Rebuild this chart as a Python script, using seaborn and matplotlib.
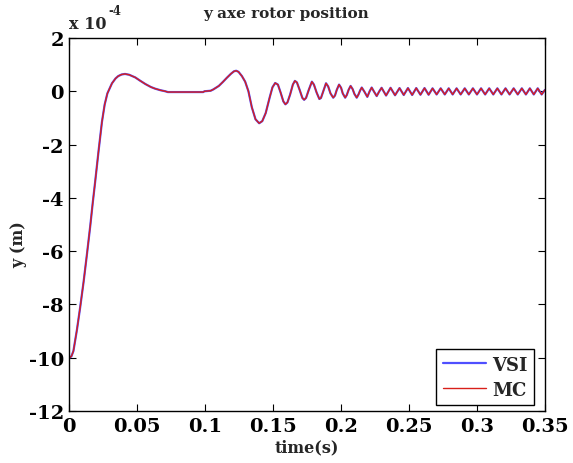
import matplotlib
matplotlib.use("Agg")
import matplotlib.pyplot as plt
import pandas as pd
import seaborn as sns

# Rotor y-position (units of 1e-4 m) against time (s)
time_s = [
    0.0000, 0.0015, 0.0030, 0.0056, 0.0080, 0.0105, 0.0130, 0.0154, 0.0172, 0.0190,
    0.0216, 0.0240, 0.0260, 0.0280, 0.0314, 0.0340, 0.0360, 0.0385, 0.0410, 0.0440,
    0.0485, 0.0520, 0.0560, 0.0600, 0.0630, 0.0670, 0.0706, 0.0725, 0.0985, 0.0995,
    0.1040, 0.1060, 0.1100, 0.1130, 0.1160, 0.1190, 0.1212, 0.1228, 0.1245, 0.1270,
    0.1294, 0.1318, 0.1343, 0.1370, 0.1397, 0.1420, 0.1445, 0.1475, 0.1495, 0.1515,
    0.1535, 0.1555, 0.1575, 0.1590, 0.1605, 0.1625, 0.1645, 0.1660, 0.1675, 0.1695,
    0.1715, 0.1728, 0.1742, 0.1762, 0.1785, 0.1800, 0.1820, 0.1840, 0.1852, 0.1870,
    0.1889, 0.1905, 0.1922, 0.1942, 0.1955, 0.1968, 0.1985, 0.2000, 0.2012, 0.2030,
    0.2042, 0.2055, 0.2070, 0.2085, 0.2098, 0.2115, 0.2128, 0.2140, 0.2152, 0.2172,
    0.2193, 0.2210, 0.2225, 0.2243, 0.2262, 0.2280, 0.2298, 0.2331, 0.2364, 0.2397,
    0.2430, 0.2461, 0.2492, 0.2523, 0.2553, 0.2584, 0.2614, 0.2644, 0.2673, 0.2703,
    0.2733, 0.2763, 0.2792, 0.2821, 0.2850, 0.2880, 0.2910, 0.2940, 0.2970, 0.3000,
    0.3030, 0.3060, 0.3090, 0.3120, 0.3150, 0.3180, 0.3210, 0.3240, 0.3270, 0.3300,
    0.3330, 0.3360, 0.3389, 0.3418, 0.3447, 0.3476, 0.3500,
]

y_vsi = [
    -10.00, -9.95, -9.75, -8.95, -8.10, -7.15, -6.10, -5.05, -4.20, -3.40,
    -2.20, -1.15, -0.50, -0.08, 0.30, 0.48, 0.57, 0.63, 0.65, 0.62,
    0.52, 0.40, 0.27, 0.16, 0.10, 0.04, 0.00, -0.03, -0.03, 0.00,
    0.02, 0.07, 0.20, 0.35, 0.51, 0.66, 0.75, 0.77, 0.73, 0.57,
    0.36, 0.00, -0.60, -1.05, -1.20, -1.12, -0.82, -0.22, 0.15, 0.31,
    0.25, -0.05, -0.38, -0.49, -0.42, -0.12, 0.25, 0.39, 0.33, 0.05,
    -0.25, -0.32, -0.25, 0.05, 0.36, 0.25, -0.05, -0.29, -0.25, 0.02,
    0.30, 0.18, -0.08, -0.24, -0.16, 0.05, 0.25, 0.13, -0.08, -0.24,
    -0.14, 0.05, 0.20, 0.08, -0.10, -0.24, -0.12, 0.03, 0.14, -0.02,
    -0.21, 0.00, 0.14, -0.02, -0.18, -0.01, 0.13, -0.16, 0.13, -0.15,
    0.12, -0.14, 0.12, -0.14, 0.12, -0.13, 0.12, -0.13, 0.11, -0.12,
    0.11, -0.12, 0.11, -0.12, 0.11, -0.12, 0.11, -0.12, 0.11, -0.12,
    0.11, -0.12, 0.11, -0.12, 0.11, -0.12, 0.11, -0.12, 0.11, -0.12,
    0.11, -0.12, 0.11, -0.12, 0.11, -0.12, 0.05,
]

# The matrix-converter response coincides with the VSI response
y_mc = list(y_vsi)

x_ticks = [0, 0.05, 0.1, 0.15, 0.2, 0.25, 0.3, 0.35]
x_tick_labels = ["0", "0.05", "0.1", "0.15", "0.2", "0.25", "0.3", "0.35"]
y_ticks = [-12, -10, -8, -6, -4, -2, 0, 2]
y_tick_labels = ["-12", "-10", "-8", "-6", "-4", "-2", "0", "2"]

df = pd.DataFrame({"time": time_s, "VSI": y_vsi, "MC": y_mc})

sns.set_style("ticks")
plt.rcParams["font.family"] = ["DejaVu Serif"]
plt.rcParams["font.weight"] = "bold"
plt.rcParams["axes.unicode_minus"] = False

fig = plt.figure(figsize=(5.73, 4.64), dpi=100)
ax = fig.add_axes([0.121, 0.112, 0.830, 0.804])

sns.lineplot(data=df, x="time", y="VSI", ax=ax, color="#4f4fff", linewidth=1.6,
             label="VSI", estimator=None, sort=False)
sns.lineplot(data=df, x="time", y="MC", ax=ax, color="#d8201a", linewidth=1.0,
             label="MC", estimator=None, sort=False)

ax.set_xlim(0, 0.35)
ax.set_ylim(-12, 2)
ax.set_xticks(x_ticks)
ax.set_xticklabels(x_tick_labels)
ax.set_yticks(y_ticks)
ax.set_yticklabels(y_tick_labels)
ax.tick_params(direction="in", length=5, width=0.8, top=True, right=True,
               labelsize=14, pad=4, colors="black")
for lab in ax.get_xticklabels() + ax.get_yticklabels():
    lab.set_fontweight("bold")
for sp in ax.spines.values():
    sp.set_visible(True)
    sp.set_linewidth(1.0)
    sp.set_color("black")

ax.set_xlabel("time(s)", fontsize=11.5, fontweight="bold", labelpad=3)
ax.set_ylabel("y (m)", fontsize=11.5, fontweight="bold")
ax.yaxis.set_label_coords(-0.088, 0.45)
ax.set_title("y axe rotor position", fontsize=11, fontweight="bold",
             x=0.455, pad=15)

# Exponent label above the y axis
ax.text(0.0, 1.016, "x 10", transform=ax.transAxes, fontsize=11.5,
        fontweight="bold", ha="left", va="bottom")
ax.annotate("-4", xy=(0.0, 1.016), xycoords=ax.transAxes, xytext=(28, 11),
            textcoords="offset points", fontsize=8.5, fontweight="bold",
            ha="left", va="bottom")

leg = ax.legend(loc="lower right", bbox_to_anchor=(0.9775, 0.016), borderaxespad=0,
                frameon=True, fancybox=False, edgecolor="black", framealpha=1,
                prop={"weight": "bold", "size": 13}, handlelength=2.4,
                borderpad=0.35, labelspacing=0.4, handletextpad=0.35)
leg.get_frame().set_linewidth(1.0)

fig.savefig("out.png", dpi=100, facecolor="white")
